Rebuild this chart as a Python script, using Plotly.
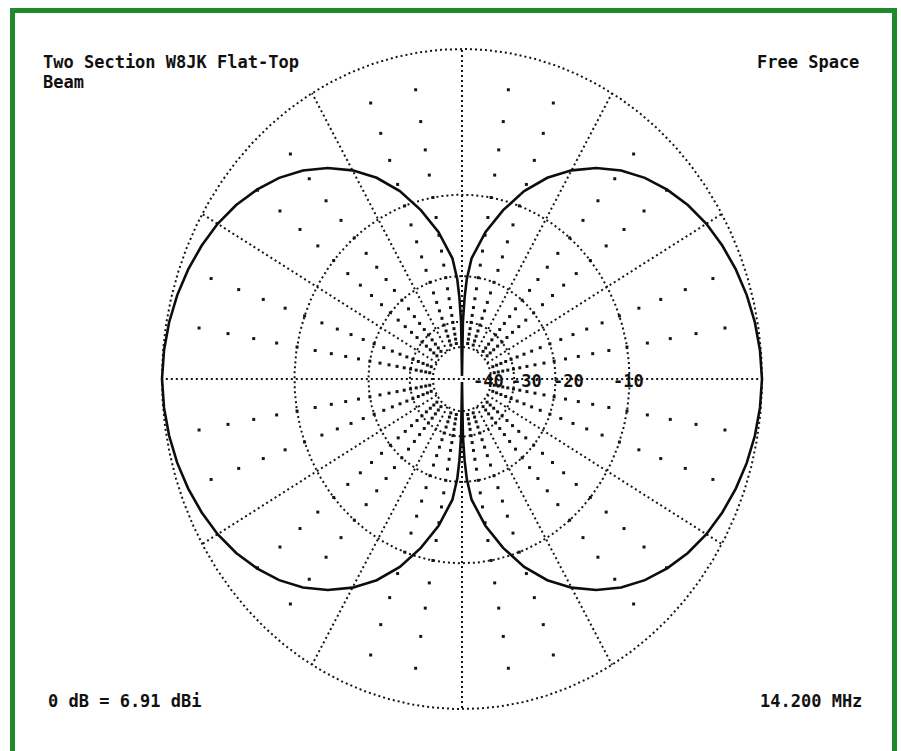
import numpy as np
import plotly.graph_objects as go

# ---- Pattern data: free-space azimuth response, one quadrant (dB re: peak) ----
pattern_az_deg = [0, 5, 10, 15, 20, 25, 30, 35, 40, 45, 50, 55, 60, 65, 70,
                  75, 80, 85, 87, 88, 89, 90]
pattern_db = [0.0, -0.05, -0.15, -0.3, -0.5, -0.75, -1.05, -1.45, -1.95, -2.55,
              -3.3, -4.25, -5.4, -6.8, -8.6, -10.9, -13.6, -17.2, -20.5, -24.0,
              -30.0, -80.0]

# ---- Grid definition ----
ring_db = [0, -10, -20, -30, -40]
ring_labels = ["-40", "-30", "-20", "-10"]
major_spoke_deg = list(range(0, 360, 30))
minor_spoke_deg = [a for a in range(0, 360, 10) if a % 30 != 0]
minor_dot_db = list(range(-2, -40, -2))

# ---- Text ----
title_lines = ["Two Section W8JK Flat-Top", "Beam"]
env_text = "Free Space"
ref_text = "0 dB = 6.91 dBi"
freq_text = "14.200 MHz"


def db_to_r(db):
    """ARRL log-periodic radial scale: 0.89 per 2 dB."""
    return 0.89 ** (-np.asarray(db, dtype=float) / 2.0)


# full 360-degree pattern from the symmetric quadrant
q_az = np.array(pattern_az_deg, dtype=float)
q_db = np.array(pattern_db, dtype=float)
az = np.concatenate([q_az, 180 - q_az[::-1], 180 + q_az, 360 - q_az[::-1]])
db = np.concatenate([q_db, q_db[::-1], q_db, q_db[::-1]])
r = db_to_r(db)
px = r * np.cos(np.radians(az))
py = r * np.sin(np.radians(az))

fig = go.Figure()

DOT = "2px,3px"
INK = "#151515"

# dotted rings
t = np.radians(np.linspace(0, 360, 721))
for d in ring_db:
    rr = float(db_to_r(d))
    fig.add_trace(go.Scatter(x=rr * np.cos(t), y=rr * np.sin(t), mode="lines",
                             line=dict(color=INK, width=2, dash=DOT),
                             hoverinfo="skip", showlegend=False))

# densely dotted spokes every 30 degrees
r_in = float(db_to_r(-40))
for a in major_spoke_deg:
    ca, sa = np.cos(np.radians(a)), np.sin(np.radians(a))
    fig.add_trace(go.Scatter(x=[r_in * ca, ca], y=[r_in * sa, sa], mode="lines",
                             line=dict(color=INK, width=2, dash=DOT),
                             hoverinfo="skip", showlegend=False))
# horizontal axis through the centre
fig.add_trace(go.Scatter(x=[-r_in, r_in], y=[0, 0], mode="lines",
                         line=dict(color=INK, width=2, dash=DOT),
                         hoverinfo="skip", showlegend=False))

# sparse dots every 2 dB on the 10-degree spokes
rd = db_to_r(minor_dot_db)
mx, my = [], []
for a in minor_spoke_deg:
    mx.extend(rd * np.cos(np.radians(a)))
    my.extend(rd * np.sin(np.radians(a)))
fig.add_trace(go.Scatter(x=mx, y=my, mode="markers",
                         marker=dict(color=INK, size=3, symbol="square"),
                         hoverinfo="skip", showlegend=False))

# antenna pattern
fig.add_trace(go.Scatter(x=px, y=py, mode="lines",
                         line=dict(color="#0d0d0d", width=2.6),
                         hoverinfo="skip", showlegend=False))

# ---- Layout: centre at pixel (462, 379); 0 dB radius 300 px wide, 330 px tall ----
W, H = 901, 751
CX, CY, RX, RY = 462.0, 379.0, 300.0, 330.0
xr = [-CX / RX, (W - CX) / RX]
yr = [-(H - CY) / RY, CY / RY]

FONT = "DejaVu Sans Mono"
FS = 17
annotations = []


def px_to_paper(x, y):
    return x / W, 1 - y / H


def corner_text(text, x, y, anchor):
    xp, yp = px_to_paper(x, y)
    annotations.append(dict(x=xp, y=yp, xref="paper", yref="paper", text=f"<b>{text}</b>",
                            showarrow=False, xanchor=anchor, yanchor="middle",
                            font=dict(family=FONT, size=FS, color="#111")))


for i, line in enumerate(title_lines):
    corner_text(line, 41, 62 + 20 * i, "left")
corner_text(env_text, 861, 62, "right")
corner_text(ref_text, 46, 701, "left")
corner_text(freq_text, 864, 701, "right")

# ring value labels along the horizontal axis
label_px = [488, 526, 568, 628]
for lab, lx in zip(ring_labels, label_px):
    annotations.append(dict(x=(lx - CX) / RX, y=(CY - 381) / RY, xref="x", yref="y",
                            text=f"<b>{lab}</b>", showarrow=False,
                            xanchor="center", yanchor="middle",
                            font=dict(family=FONT, size=FS, color="#111")))

# green frame
gx0, gy0 = px_to_paper(12.5, 10.5)
gx1, _ = px_to_paper(894.5, 0)
shapes = [dict(type="rect", xref="paper", yref="paper", x0=gx0, y0=-0.05, x1=gx1, y1=gy0,
               line=dict(color="#1e8a2c", width=5), fillcolor="rgba(0,0,0,0)")]

fig.update_layout(
    width=W, height=H,
    margin=dict(l=0, r=0, t=0, b=0),
    paper_bgcolor="white", plot_bgcolor="white",
    xaxis=dict(range=xr, visible=False, showgrid=False, zeroline=False, fixedrange=True),
    yaxis=dict(range=yr, visible=False, showgrid=False, zeroline=False, fixedrange=True),
    annotations=annotations,
    shapes=shapes,
    showlegend=False,
)

fig.write_html("out.html")
